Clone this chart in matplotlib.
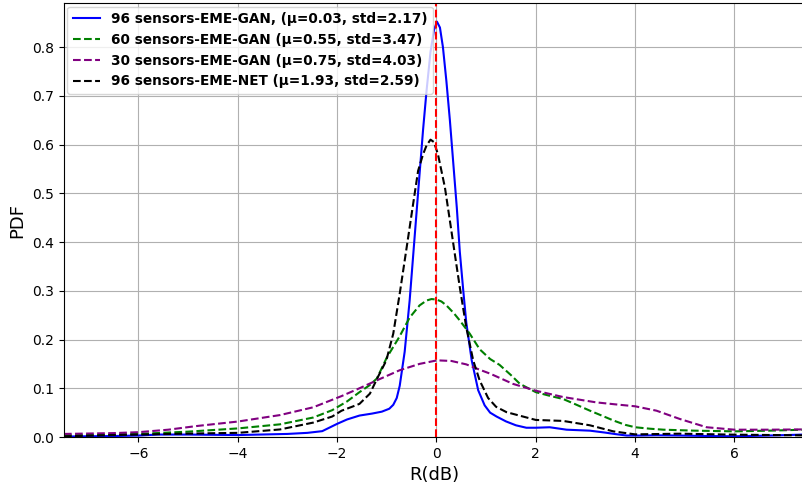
import numpy as np
import matplotlib
matplotlib.use("Agg")
import matplotlib.pyplot as plt

# values
x_gan96 = [-7.5, -6.5, -6.0, -5.6, -5.0, -4.0, -3.0, -2.6, -2.3, -2.0, -1.8, -1.55, -1.3, -1.1, -0.95,
           -0.87, -0.8, -0.74, -0.64, -0.54, -0.44, -0.34, -0.27, -0.2, -0.12, -0.05, 0.01, 0.07, 0.13,
           0.2, 0.27, 0.34, 0.41, 0.47, 0.54, 0.6, 0.71, 0.84, 0.97, 1.08, 1.21, 1.4, 1.6, 1.81, 2.0,
           2.28, 2.62, 3.09, 3.4, 3.6, 3.83, 4.1, 4.43, 4.9, 5.5, 6.0, 6.7, 7.4]
y_gan96 = [0.001, 0.002, 0.003, 0.005, 0.005, 0.004, 0.0063, 0.0085, 0.012, 0.027, 0.036, 0.044, 0.048,
           0.052, 0.058, 0.066, 0.08, 0.105, 0.175, 0.28, 0.41, 0.54, 0.63, 0.71, 0.79, 0.835, 0.852,
           0.84, 0.8, 0.73, 0.65, 0.56, 0.47, 0.38, 0.3, 0.235, 0.157, 0.096, 0.065, 0.05, 0.042,
           0.032, 0.024, 0.019, 0.019, 0.02, 0.015, 0.013, 0.009, 0.006, 0.003, 0.003, 0.0035, 0.003,
           0.002, 0.0015, 0.003, 0.005]

x_gan60 = [-7.5, -6.5, -6.0, -5.0, -4.0, -3.15, -2.48, -2.1, -1.8, -1.55, -1.35, -1.2, -1.0, -0.75,
           -0.54, -0.34, -0.2, -0.1, 0.0, 0.1, 0.2, 0.35, 0.47, 0.67, 0.87, 1.08, 1.27, 1.5, 1.68, 2.0,
           2.3, 2.55, 2.8, 3.09, 3.35, 3.56, 3.8, 4.0, 4.3, 4.57, 5.2, 6.0, 6.7, 7.4]
y_gan60 = [0.0035, 0.005, 0.0063, 0.011, 0.0176, 0.026, 0.04, 0.055, 0.073, 0.092, 0.106, 0.12, 0.163,
           0.205, 0.245, 0.27, 0.28, 0.283, 0.282, 0.278, 0.27, 0.254, 0.239, 0.212, 0.18, 0.16, 0.148,
           0.127, 0.109, 0.092, 0.084, 0.078, 0.067, 0.054, 0.043, 0.034, 0.025, 0.02, 0.017, 0.015,
           0.013, 0.0116, 0.013, 0.015]

x_gan30 = [-7.5, -6.5, -6.0, -5.4, -4.83, -4.0, -3.15, -2.48, -1.91, -1.55, -1.14, -0.74, -0.34, 0.0,
           0.07, 0.3, 0.6, 0.87, 1.08, 1.3, 1.54, 2.0, 2.55, 3.22, 3.6, 4.0, 4.43, 4.9, 5.44, 6.0, 6.7, 7.4]
y_gan30 = [0.0063, 0.008, 0.0099, 0.015, 0.0225, 0.0317, 0.045, 0.061, 0.084, 0.1, 0.119, 0.137, 0.15,
           0.157, 0.157, 0.156, 0.149, 0.138, 0.13, 0.12, 0.109, 0.095, 0.082, 0.071, 0.067, 0.063,
           0.054, 0.037, 0.02, 0.015, 0.015, 0.0156]

x_net96 = [-7.5, -6.5, -6.0, -5.0, -4.0, -3.15, -2.48, -2.1, -1.91, -1.7, -1.55, -1.34, -1.18, -1.01,
           -0.87, -0.74, -0.6, -0.47, -0.37, -0.27, -0.2, -0.12, -0.05, 0.03, 0.17, 0.27, 0.37, 0.47,
           0.6, 0.74, 0.87, 1.04, 1.2, 1.41, 2.0, 2.55, 3.09, 3.56, 4.0, 4.9, 6.0, 7.4]
y_net96 = [0.0014, 0.004, 0.005, 0.007, 0.0085, 0.0155, 0.0296, 0.042, 0.054, 0.062, 0.068, 0.089,
           0.123, 0.157, 0.212, 0.294, 0.389, 0.478, 0.546, 0.58, 0.598, 0.61, 0.605, 0.58, 0.512,
           0.444, 0.375, 0.307, 0.225, 0.157, 0.116, 0.08, 0.062, 0.051, 0.035, 0.033, 0.024, 0.0116,
           0.0054, 0.0068, 0.0048, 0.0034]

labels = ["96 sensors-EME-GAN, (\u03bc=0.03, std=2.17)",
          "60 sensors-EME-GAN (\u03bc=0.55, std=3.47)",
          "30 sensors-EME-GAN (\u03bc=0.75, std=4.03)",
          "96 sensors-EME-NET (\u03bc=1.93, std=2.59)"]

fig = plt.figure(figsize=(8.03, 4.88), dpi=100)
ax = fig.add_axes([0.0797, 0.1045, 0.9215, 0.889])

ax.plot(x_gan96, y_gan96, color="blue", lw=1.5, label=labels[0])
ax.plot(x_gan60, y_gan60, "--", color="green", lw=1.5, label=labels[1])
ax.plot(x_gan30, y_gan30, "--", color="purple", lw=1.5, label=labels[2])
ax.plot(x_net96, y_net96, "--", color="black", lw=1.5, label=labels[3])
ax.axvline(0, color="red", ls="--", lw=1.5)

ax.set_xlim(-7.5, 7.4)
ax.set_ylim(0, 0.89)
ax.set_xticks([-6, -4, -2, 0, 2, 4, 6])
ax.set_yticks(np.arange(0, 0.81, 0.1))
ax.tick_params(labelsize=10)
ax.set_xlabel("R(dB)", fontsize=13)
ax.set_ylabel("PDF", fontsize=13)
ax.grid(True)
ax.legend(loc="upper left", prop={"weight": "bold", "size": 9.8},
          borderaxespad=0.25, labelspacing=0.5)

fig.savefig("out.png", dpi=100)
